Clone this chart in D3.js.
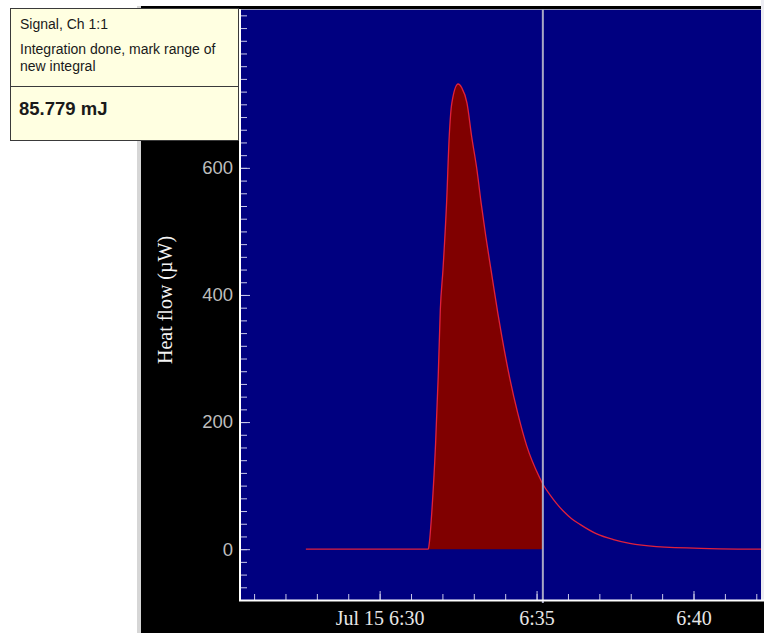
<!DOCTYPE html>
<html>
<head>
<meta charset="utf-8">
<script src="https://cdn.jsdelivr.net/npm/d3@7"></script>
<style>
  body { margin: 0; background: #fff; }
  svg { display: block; }
</style>
</head>
<body>
<div id="chart"></div>
<script>
// Heat flow signal (time of day, µW)
const times = ["6:27:39", "6:31:33", "6:31:35", "6:31:40", "6:31:47", "6:31:52", "6:31:56",
  "6:32:01", "6:32:08", "6:32:13", "6:32:18", "6:32:30", "6:32:37", "6:32:47", "6:32:56",
  "6:33:06", "6:33:14", "6:33:23", "6:33:33", "6:33:46", "6:33:54", "6:34:09", "6:34:24",
  "6:34:41", "6:35:05", "6:35:13", "6:35:26", "6:35:38", "6:35:51", "6:36:07", "6:36:23",
  "6:36:55", "6:37:27", "6:37:58", "6:38:49", "6:40:31", "6:42:10"];
const heatFlow = [0, 0, 10, 62, 167, 272, 377, 439, 545, 649, 702, 732, 726, 702, 649,
  597, 545, 492, 439, 371, 333, 268, 214, 163, 114, 101, 85, 72, 60, 48, 39,
  24, 15, 9, 4, 1, 0];

// integration range and cursor
const integralRange = ["6:31:33", "6:35:12"];
const cursorTime = "6:35:12";

// axis ticks
const yTicks = [0, 200, 400, 600];
const xTickTimes = ["6:30:00", "6:35:00", "6:40:00"];
const xTickLabels = ["Jul 15 6:30", "6:35", "6:40"];

// tooltip text
const tipLines = ["Signal, Ch 1:1", "Integration done, mark range of", "new integral"];
const tipValue = "85.779 mJ";

const parseTime = d3.timeParse("%Y-%m-%d %H:%M:%S");
const toDate = (s) => parseTime("2008-07-15 " + s);

const data = times.map((t, i) => ({ t: toDate(t), v: heatFlow[i] }));

const width = 764, height = 633;
const plot = { left: 241, right: 761, top: 9, bottom: 600 };

const svg = d3.select("#chart").append("svg")
  .attr("width", width)
  .attr("height", height);

// black frame behind the chart
svg.append("rect").attr("x", 137).attr("y", 6).attr("width", 4).attr("height", 627)
  .attr("fill", "#d6d6d6");
svg.append("rect").attr("x", 141).attr("y", 6).attr("width", 623).attr("height", 627)
  .attr("fill", "#000");

// plot background
svg.append("rect")
  .attr("x", plot.left).attr("y", plot.top)
  .attr("width", plot.right - plot.left).attr("height", plot.bottom - plot.top)
  .attr("fill", "#000080");
svg.append("rect").attr("x", plot.right).attr("y", 0).attr("width", 3).attr("height", plot.bottom)
  .attr("fill", "#ececf2");
svg.append("line")
  .attr("x1", plot.left).attr("x2", plot.right)
  .attr("y1", plot.top + 0.5).attr("y2", plot.top + 0.5)
  .attr("stroke", "#9a9ab8");

// scales
const x = d3.scaleTime()
  .domain([toDate("6:25:35"), toDate("6:42:09")])
  .range([plot.left, plot.right]);
const y = d3.scaleLinear()
  .domain([-80, 850])
  .range([plot.bottom, plot.top]);

// clip paths
const defs = svg.append("defs");
defs.append("clipPath").attr("id", "clip-plot")
  .append("rect")
  .attr("x", plot.left).attr("y", plot.top)
  .attr("width", plot.right - plot.left).attr("height", plot.bottom - plot.top);
defs.append("clipPath").attr("id", "clip-integral")
  .append("rect")
  .attr("x", x(toDate(integralRange[0])))
  .attr("y", plot.top)
  .attr("width", x(toDate(integralRange[1])) - x(toDate(integralRange[0])))
  .attr("height", plot.bottom - plot.top);

// integrated area
const area = d3.area()
  .x((d) => x(d.t))
  .y0(y(0))
  .y1((d) => y(d.v))
  .curve(d3.curveMonotoneX);

svg.append("path")
  .datum(data)
  .attr("clip-path", "url(#clip-integral)")
  .attr("fill", "#800000")
  .attr("d", area);

// signal line
const line = d3.line()
  .x((d) => x(d.t))
  .y((d) => y(d.v))
  .curve(d3.curveMonotoneX);

svg.append("path")
  .datum(data)
  .attr("clip-path", "url(#clip-plot)")
  .attr("fill", "none")
  .attr("stroke", "#e0203c")
  .attr("stroke-width", 1.3)
  .attr("d", line);

// cursor
svg.append("line")
  .attr("x1", x(toDate(cursorTime))).attr("x2", x(toDate(cursorTime)))
  .attr("y1", plot.top).attr("y2", plot.bottom + 3)
  .attr("stroke", "#a8a8c4")
  .attr("stroke-width", 2);

// y axis (ticks point into the plot)
const yMinor = svg.append("g")
  .attr("transform", `translate(${plot.left},0)`)
  .call(d3.axisLeft(y).tickValues(d3.range(-60, 841, 20)).tickSize(-6).tickFormat(""));
yMinor.select(".domain").remove();
yMinor.selectAll(".tick line").attr("stroke", "#c8c8e8");

const yAxis = svg.append("g")
  .attr("transform", `translate(${plot.left},0)`)
  .call(d3.axisLeft(y).tickValues(yTicks).tickSizeInner(-9).tickSizeOuter(0).tickPadding(8));
yAxis.select(".domain").remove();
yAxis.selectAll(".tick line").attr("stroke", "#c8c8e8");
yAxis.selectAll(".tick text")
  .attr("fill", "#bdbdbd")
  .style("font-family", "'Liberation Sans', Arial, sans-serif")
  .style("font-size", "18.5px");

// x axis (ticks point up)
const xMinor = svg.append("g")
  .attr("transform", `translate(0,${plot.bottom})`)
  .call(d3.axisBottom(x).ticks(d3.timeMinute.every(1)).tickSize(-6).tickFormat(""));
xMinor.select(".domain").remove();
xMinor.selectAll(".tick line").attr("stroke", "#c8c8e8");

const xAxis = svg.append("g")
  .attr("transform", `translate(0,${plot.bottom})`)
  .call(d3.axisBottom(x)
    .tickValues(xTickTimes.map(toDate))
    .tickFormat((d, i) => xTickLabels[i])
    .tickSizeInner(-9).tickSizeOuter(0).tickPadding(11));
xAxis.select(".domain").remove();
xAxis.selectAll(".tick line").attr("stroke", "#c8c8e8");
xAxis.selectAll(".tick text")
  .attr("fill", "#e6e6e6")
  .style("font-family", "'Liberation Serif', 'Times New Roman', serif")
  .style("font-size", "20px");

// white axis lines
svg.append("line")
  .attr("x1", plot.left - 1).attr("x2", plot.left - 1)
  .attr("y1", plot.top).attr("y2", plot.bottom + 1)
  .attr("stroke", "#fff").attr("stroke-width", 2);
svg.append("line")
  .attr("x1", plot.left - 2).attr("x2", width)
  .attr("y1", plot.bottom + 0.5).attr("y2", plot.bottom + 0.5)
  .attr("stroke", "#fff").attr("stroke-width", 2);

// y axis title
svg.append("text")
  .attr("transform", "translate(165,300) rotate(-90)")
  .attr("text-anchor", "middle")
  .attr("dy", "0.35em")
  .attr("fill", "#f4f4f4")
  .style("font-family", "'Liberation Serif', 'Times New Roman', serif")
  .style("font-size", "20px")
  .text("Heat flow (µW)");

// tooltip box
const tip = svg.append("g");
tip.append("rect")
  .attr("x", 10.5).attr("y", 8.5)
  .attr("width", 228).attr("height", 132)
  .attr("fill", "#ffffe1")
  .attr("stroke", "#3a3a3a");
tip.append("line")
  .attr("x1", 10.5).attr("x2", 238.5)
  .attr("y1", 86.5).attr("y2", 86.5)
  .attr("stroke", "#3a3a3a");
const tipBaselines = [29, 54, 71];
tip.selectAll("text.line")
  .data(tipLines)
  .join("text")
  .attr("class", "line")
  .attr("x", 20)
  .attr("y", (d, i) => tipBaselines[i])
  .attr("fill", "#1a1a1a")
  .style("font-family", "'Liberation Sans', Arial, sans-serif")
  .style("font-size", "14px")
  .text((d) => d);
tip.append("text")
  .attr("x", 19)
  .attr("y", 115)
  .attr("fill", "#1a1a1a")
  .style("font-family", "'Liberation Sans', Arial, sans-serif")
  .style("font-size", "18.5px")
  .style("font-weight", "bold")
  .text(tipValue);
</script>
</body>
</html>
